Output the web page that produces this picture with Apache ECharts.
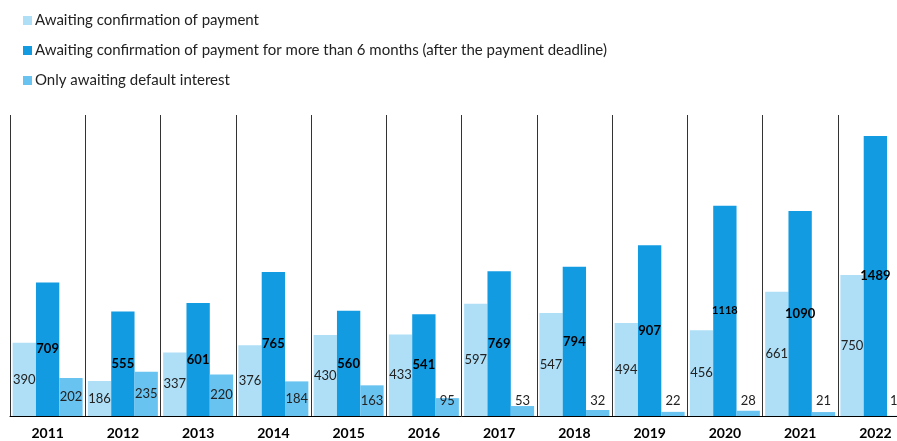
<!DOCTYPE html>
<html>
<head>
<meta charset="utf-8">
<script src="https://cdn.jsdelivr.net/npm/echarts@6/dist/echarts.min.js"></script>
<style>
html, body { margin: 0; padding: 0; background: #fff; overflow: hidden; }
/* wider than the window so the last year is cut off like the original */
#main { width: 913px; height: 441px; }
</style>
</head>
<body>
<div id="main"></div>
<script>
var years = ['2011', '2012', '2013', '2014', '2015', '2016', '2017', '2018', '2019', '2020', '2021', '2022'];
var awaiting = [390, 186, 337, 376, 430, 433, 597, 547, 494, 456, 661, 750];
var overSixMonths = [709, 555, 601, 765, 560, 541, 769, 794, 907, 1118, 1090, 1489];
var defaultInterest = [202, 235, 220, 184, 163, 95, 53, 32, 22, 28, 21, 1];
var seriesNames = [
    'Awaiting confirmation of payment',
    'Awaiting confirmation of payment for more than 6 months (after the payment deadline)',
    'Only awaiting default interest'
];

var myChart = echarts.init(document.getElementById('main'));
var font = 'Lato, "Open Sans", sans-serif';

// 1118 is printed smaller in the original
var darkData = overSixMonths.map(function (v) {
    if (v == 1118) return {value: v, label: {fontSize: 11}};
    return v;
});
// small bars: label sits just above the bottom
var midData = defaultInterest.map(function (v, i) {
    if (v >= 180) return v;
    var lab = {position: 'insideBottom', distance: 9};
    // last one sits at the window edge, nudge it back into view
    if (i == defaultInterest.length - 1) lab.offset = [-5, 0];
    return {value: v, label: lab};
});

myChart.setOption({
    animation: false,
    textStyle: {fontFamily: font},
    legend: {
        orient: 'vertical',
        left: 18,
        top: 8,
        itemWidth: 9,
        itemHeight: 9,
        itemGap: 15,
        icon: 'rect',
        textStyle: {fontSize: 15, color: '#222', fontFamily: font, padding: [0, 0, 0, -2]},
        data: seriesNames
    },
    grid: {left: 10, right: 0, top: 115, bottom: 25, containLabel: false},
    xAxis: {
        type: 'category',
        data: years,
        axisLine: {lineStyle: {color: '#000', width: 1}},
        axisTick: {show: false},
        axisLabel: {fontSize: 14, fontWeight: 'bold', color: '#000', margin: 10, interval: 0},
        splitLine: {show: true, interval: 0, lineStyle: {color: '#333', width: 1}}
    },
    yAxis: {type: 'value', min: 0, max: 1600, show: false, splitLine: {show: false}},
    series: [
        {
            name: seriesNames[0],
            type: 'bar',
            barGap: '0%',
            barCategoryGap: '7%',
            itemStyle: {color: '#AEDFF7'},
            label: {show: true, position: 'inside', fontSize: 13, color: '#222'},
            data: awaiting
        },
        {
            name: seriesNames[1],
            type: 'bar',
            itemStyle: {color: '#139BE2'},
            label: {show: true, position: 'inside', fontSize: 13, fontWeight: 'bold', color: '#000'},
            data: darkData
        },
        {
            name: seriesNames[2],
            type: 'bar',
            itemStyle: {color: '#69C3F0'},
            label: {show: true, position: 'inside', fontSize: 13, color: '#222'},
            data: midData
        }
    ]
});
</script>
</body>
</html>
